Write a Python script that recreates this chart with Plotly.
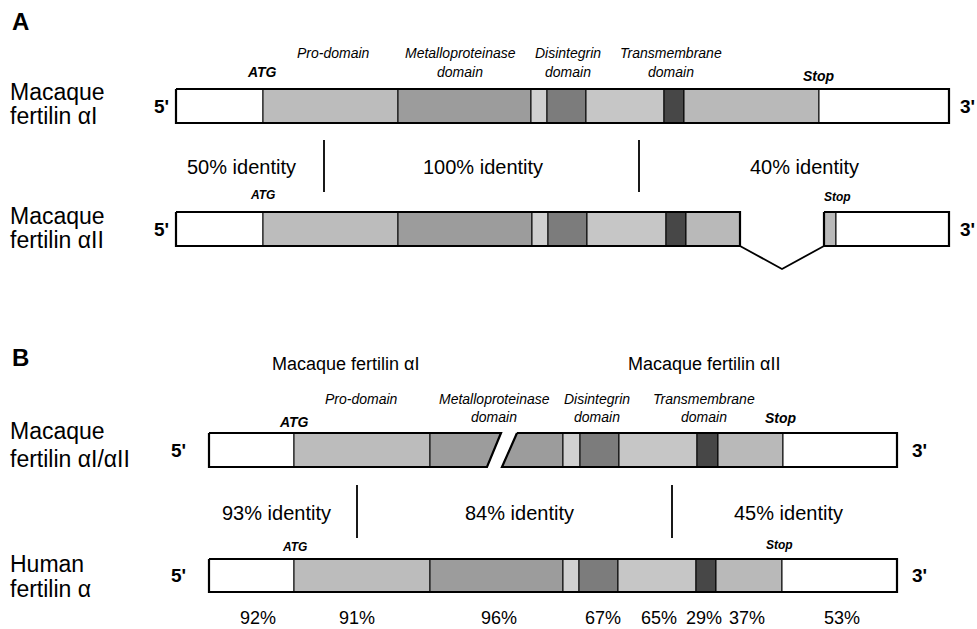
import plotly.graph_objects as go

# ---------------- data ----------------
WHITE = "#ffffff"
PRO = "#bcbcbc"
MET = "#9c9c9c"
SPACER = "#d0d0d0"
DIS = "#7c7c7c"
CYS = "#c6c6c6"
TM = "#474747"
TAIL = "#b9b9b9"

# domain boundaries along the cDNA (diagram units)
a1_edges = [176, 263, 398, 531, 547, 586, 664, 684, 819, 949]
a1_fills = [WHITE, PRO, MET, SPACER, DIS, CYS, TM, TAIL, WHITE]
a2_edges = [176, 263, 398, 532, 548, 587, 666, 686, 740]
a2_fills = [WHITE, PRO, MET, SPACER, DIS, CYS, TM, TAIL]
a2_exon_edges = [824, 836, 949]
a2_exon_fills = [TAIL, WHITE]
a2_intron_x = [740, 782, 824]
a2_intron_depth = [0, 23, 0]

b1_left_edges = [209, 294, 430, 501]
b1_left_fills = [WHITE, PRO, MET]
b1_right_edges = [517, 563, 580, 619, 697, 718, 783, 897]
b1_right_fills = [MET, SPACER, DIS, CYS, TM, TAIL, WHITE]
b1_slant = 15
b2_edges = [209, 294, 430, 563, 579, 618, 696, 716, 782, 897]
b2_fills = [WHITE, PRO, MET, SPACER, DIS, CYS, TM, TAIL, WHITE]

rows_y = {"A1": (89, 123), "A2": (212, 246), "B1": (433, 467), "B2": (559, 592)}

identity_A = ["50% identity", "100% identity", "40% identity"]
identity_A_x = [241, 483, 804]
identity_A_div = [324, 639]
identity_B = ["93% identity", "84% identity", "45% identity"]
identity_B_x = [276, 519, 788]
identity_B_div = [357, 672]

human_pct = ["92%", "91%", "96%", "67%", "65%", "29%", "37%", "53%"]
human_pct_x = [258, 357, 499, 603, 659, 704, 747, 842]

FONT = "Liberation Sans, Arial, sans-serif"

fig = go.Figure()


def poly(xs, ys, fill, width=1.0):
    fig.add_trace(go.Scatter(x=xs, y=ys, mode="lines", fill="toself",
                             fillcolor=fill, line=dict(color="black", width=width),
                             hoverinfo="skip", showlegend=False))


def outline(xs, ys, width=2.2):
    fig.add_trace(go.Scatter(x=xs, y=ys, mode="lines",
                             line=dict(color="black", width=width),
                             hoverinfo="skip", showlegend=False))


def bar(edges, fills, top, bot):
    for i, f in enumerate(fills):
        x0, x1 = edges[i], edges[i + 1]
        poly([x0, x1, x1, x0, x0], [top, top, bot, bot, top], f)
    outline([edges[0], edges[-1], edges[-1], edges[0], edges[0]], [top, top, bot, bot, top])


# Panel A
t, b = rows_y["A1"]
bar(a1_edges, a1_fills, t, b)
t, b = rows_y["A2"]
bar(a2_edges, a2_fills, t, b)
bar(a2_exon_edges, a2_exon_fills, t, b)
outline(a2_intron_x, [b + d for d in a2_intron_depth], width=1.8)

# Panel B row 1 (split with slanted break)
t, b = rows_y["B1"]
for i, f in enumerate(b1_left_fills):
    x0, x1 = b1_left_edges[i], b1_left_edges[i + 1]
    if i == len(b1_left_fills) - 1:
        poly([x0, x1, x1 - b1_slant + 1, x0, x0], [t, t, b, b, t], f)
    else:
        poly([x0, x1, x1, x0, x0], [t, t, b, b, t], f)
L = b1_left_edges
outline([L[0], L[-1], L[-1] - b1_slant + 1, L[0], L[0]], [t, t, b, b, t])
for i, f in enumerate(b1_right_fills):
    x0, x1 = b1_right_edges[i], b1_right_edges[i + 1]
    if i == 0:
        poly([x0, x1, x1, x0 - b1_slant, x0], [t, t, b, b, t], f)
    else:
        poly([x0, x1, x1, x0, x0], [t, t, b, b, t], f)
R = b1_right_edges
outline([R[0], R[-1], R[-1], R[0] - b1_slant, R[0]], [t, t, b, b, t])

t, b = rows_y["B2"]
bar(b2_edges, b2_fills, t, b)

# identity dividers
for xd in identity_A_div:
    outline([xd, xd], [140, 192], width=1.8)
for xd in identity_B_div:
    outline([xd, xd], [485, 538], width=1.8)

ann = []


def txt(x, y, s, size, bold=False, italic=False, anchor="center"):
    if bold:
        s = "<b>" + s + "</b>"
    if italic:
        s = "<i>" + s + "</i>"
    ann.append(dict(x=x, y=y, text=s, showarrow=False, xref="x", yref="y",
                    xanchor=anchor, yanchor="middle",
                    font=dict(family=FONT, size=size, color="black")))


# panel letters
txt(10, 21, "A", 24, bold=True, anchor="left")
txt(10, 357, "B", 24, bold=True, anchor="left")

# row labels
txt(8, 92, "Macaque", 23, anchor="left")
txt(8, 116, "fertilin αI", 23, anchor="left")
txt(8, 216, "Macaque", 23, anchor="left")
txt(8, 240, "fertilin αII", 23, anchor="left")
txt(8, 431, "Macaque", 23, anchor="left")
txt(8, 459, "fertilin αI/αII", 23, anchor="left")
txt(8, 564, "Human", 23, anchor="left")
txt(8, 589, "fertilin α", 23, anchor="left")

# 5' / 3'
for key, x5, x3 in [("A1", 161, 967), ("A2", 161, 967), ("B1", 178, 919), ("B2", 178, 919)]:
    t, b = rows_y[key]
    txt(x5, (t + b) / 2, "5'", 19, bold=True)
    txt(x3, (t + b) / 2, "3'", 19, bold=True)

# Panel A domain labels
txt(333, 53, "Pro-domain", 14, italic=True)
txt(460, 53, "Metalloproteinase", 14, italic=True)
txt(460, 72, "domain", 14, italic=True)
txt(568, 53, "Disintegrin", 14, italic=True)
txt(568, 72, "domain", 14, italic=True)
txt(671, 53, "Transmembrane", 14, italic=True)
txt(671, 72, "domain", 14, italic=True)
txt(262, 72, "ATG", 14, bold=True, italic=True)
txt(819, 76, "Stop", 14, bold=True, italic=True)
txt(262, 195, "ATG", 12, bold=True, italic=True)
txt(837, 197, "Stop", 12, bold=True, italic=True)

for s, x in zip(identity_A, identity_A_x):
    txt(x, 167, s, 20)

# Panel B
txt(345, 364, "Macaque fertilin αI", 18)
txt(704, 364, "Macaque fertilin αII", 18)
txt(361, 399, "Pro-domain", 14, italic=True)
txt(494, 399, "Metalloproteinase", 14, italic=True)
txt(494, 417, "domain", 14, italic=True)
txt(597, 399, "Disintegrin", 14, italic=True)
txt(597, 417, "domain", 14, italic=True)
txt(704, 399, "Transmembrane", 14, italic=True)
txt(704, 417, "domain", 14, italic=True)
txt(294, 422, "ATG", 14, bold=True, italic=True)
txt(781, 418, "Stop", 14, bold=True, italic=True)
txt(294, 547, "ATG", 12, bold=True, italic=True)
txt(779, 545, "Stop", 12, bold=True, italic=True)

for s, x in zip(identity_B, identity_B_x):
    txt(x, 513, s, 20)

for s, x in zip(human_pct, human_pct_x):
    txt(x, 618, s, 18)

fig.update_layout(
    width=977, height=629,
    margin=dict(l=0, r=0, t=0, b=0),
    paper_bgcolor="white", plot_bgcolor="white",
    xaxis=dict(range=[0, 977], visible=False, fixedrange=True),
    yaxis=dict(range=[629, 0], visible=False, fixedrange=True),
    annotations=ann,
    showlegend=False,
)

fig.write_html(
    "out.html",
    config={"displayModeBar": False},
    post_script="document.body.style.margin='0';document.body.style.padding='0';"
                "document.body.style.overflow='hidden';",
)
